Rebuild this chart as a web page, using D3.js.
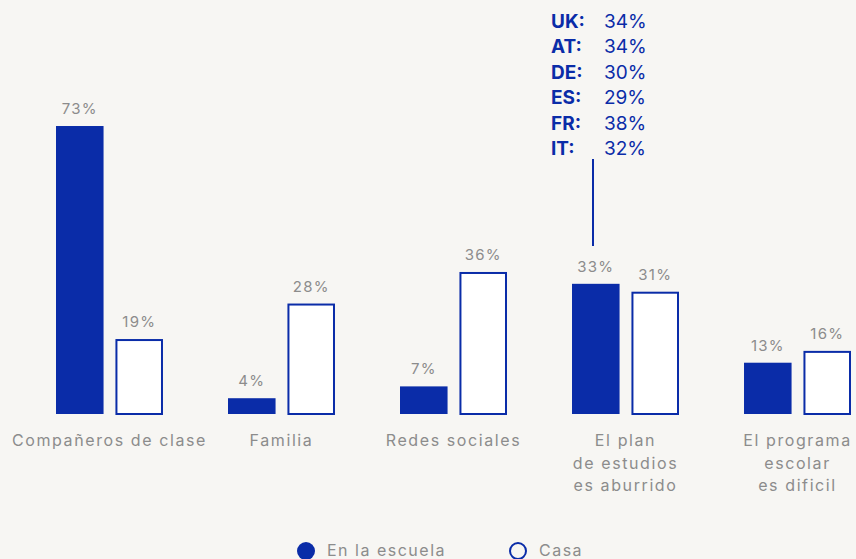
<!DOCTYPE html>
<html>
<head>
<meta charset="utf-8">
<script src="https://cdn.jsdelivr.net/npm/d3@7"></script>
<style>
  html, body { margin: 0; padding: 0; background: #f7f6f3; }
  svg { display: block; font-family: "Inter", "Noto Sans", sans-serif; }
</style>
</head>
<body>
<svg width="856" height="559"></svg>
<script>
var svg = d3.select("svg"),
	width = +svg.attr("width"),
	height = +svg.attr("height");

let categories = ["Compañeros de clase", "Familia", "Redes sociales", "El plan\nde estudios\nes aburrido", "El programa\nescolar\nes dificil"];
let series = ["En la escuela", "Casa"];
let school = [73, 4, 7, 33, 13];
let home = [19, 28, 36, 31, 16];
let countries = ["UK:", "AT:", "DE:", "ES:", "FR:", "IT:"];
let country_values = ["34%", "34%", "30%", "29%", "38%", "32%"];

let blue = "#0a2ca8";
let grey = "#8c8c8c";

var x0 = d3.scaleBand()
	.domain(d3.range(categories.length))
	.range([56, 851])
	.paddingInner(0.378);

var x1 = d3.scaleBand()
	.domain(series)
	.range([0, x0.bandwidth()])
	.paddingInner(0.2);

var y = d3.scaleLinear()
	.domain([0, 100])
	.range([414, 19.5]);

let rows = [];
categories.forEach(function(c, i) {
	rows.push({i: i, s: series[0], v: school[i]});
	rows.push({i: i, s: series[1], v: home[i]});
});

let bw = x1.bandwidth();
function bar_x(d) {
	return x0(d.i) + x1(d.s);
}

let bars = svg.append("g");

// filled bars for school, outlined for home (stroke kept inside the band)
bars.selectAll("rect")
	.data(rows)
	.enter()
	.append("rect")
	.attr("x", function(d) { return d.s == series[0] ? bar_x(d) : bar_x(d) + 1; })
	.attr("y", function(d) { return d.s == series[0] ? y(d.v) : y(d.v) + 1; })
	.attr("width", function(d) { return d.s == series[0] ? bw : bw - 2; })
	.attr("height", function(d) { return d.s == series[0] ? y(0) - y(d.v) : y(0) - y(d.v) - 1; })
	.attr("fill", function(d) { return d.s == series[0] ? blue : "#ffffff"; })
	.attr("stroke", function(d) { return d.s == series[0] ? "none" : blue; })
	.attr("stroke-width", 2);

bars.selectAll(".value")
	.data(rows)
	.enter()
	.append("text")
	.attr("class", "value")
	.attr("x", function(d) { return bar_x(d) + bw / 2; })
	.attr("y", function(d) { return y(d.v) - 12; })
	.attr("text-anchor", "middle")
	.style("font-size", "15px")
	.style("letter-spacing", "1.2px")
	.style("fill", grey)
	.text(function(d) { return d.v + "%"; });

// category labels
let labels = svg.append("g")
	.selectAll("text")
	.data(categories)
	.enter()
	.append("text")
	.attr("x", function(d, i) { return x0(i) + x0.bandwidth() / 2; })
	.attr("y", 446)
	.attr("text-anchor", "middle")
	.style("font-size", "16px")
	.style("letter-spacing", "1.6px")
	.style("fill", grey);

labels.each(function(d) {
	let t = d3.select(this);
	d.split("\n").forEach(function(line, k) {
		t.append("tspan")
			.attr("x", t.attr("x"))
			.attr("dy", k == 0 ? 0 : 22.5)
			.text(line);
	});
});

// annotation
let ann_x = x0(3) + 21;
svg.append("line")
	.attr("x1", ann_x)
	.attr("x2", ann_x)
	.attr("y1", 159)
	.attr("y2", 246)
	.style("stroke", blue)
	.style("stroke-width", 2);

let ann = svg.append("g");
ann.selectAll(".country")
	.data(countries)
	.enter()
	.append("text")
	.attr("x", 551)
	.attr("y", function(d, i) { return 28 + i * 25.4; })
	.style("font-size", "19px")
	.style("font-weight", "bold")
	.style("fill", blue)
	.text(function(d) { return d; });

ann.selectAll(".cval")
	.data(country_values)
	.enter()
	.append("text")
	.attr("x", 604)
	.attr("y", function(d, i) { return 28 + i * 25.4; })
	.style("font-size", "19px")
	.style("fill", blue)
	.text(function(d) { return d; });

// legend
let legend_x = [306, 518];
let legend = svg.append("g")
	.selectAll("g")
	.data(series)
	.enter()
	.append("g")
	.attr("transform", function(d, i) { return "translate(" + legend_x[i] + ",551)"; });

legend.append("circle")
	.attr("r", function(d, i) { return i == 0 ? 9 : 8; })
	.attr("fill", function(d, i) { return i == 0 ? blue : "none"; })
	.attr("stroke", function(d, i) { return i == 0 ? "none" : blue; })
	.attr("stroke-width", 2);

legend.append("text")
	.attr("x", 21)
	.attr("y", 5)
	.style("font-size", "16px")
	.style("letter-spacing", "1.5px")
	.style("fill", grey)
	.text(function(d) { return d; });
</script>
</body>
</html>
